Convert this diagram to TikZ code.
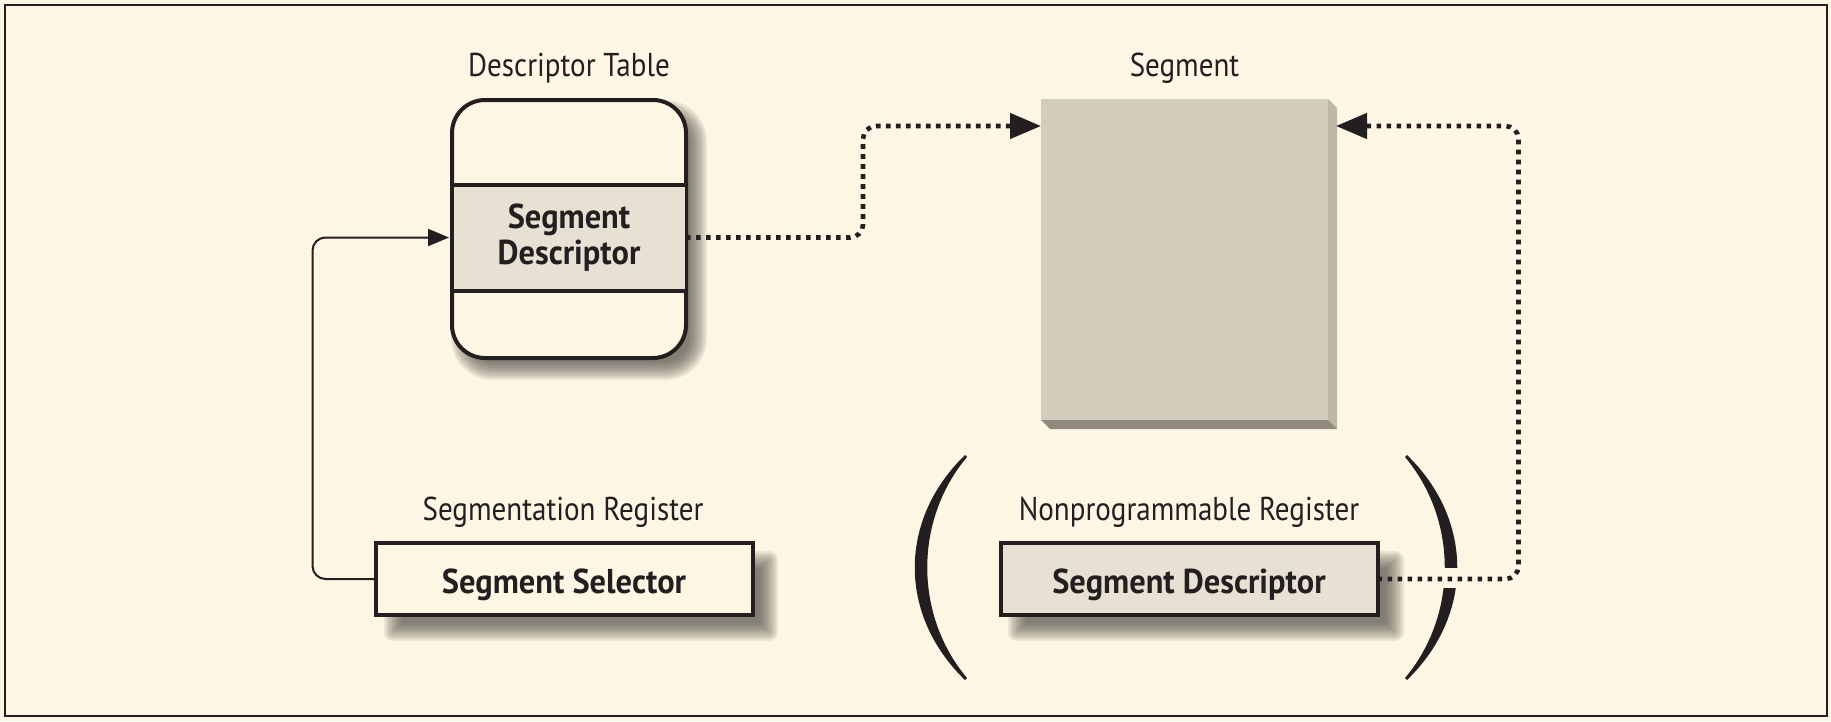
\documentclass[tikz,border=0pt]{standalone}
\usepackage{fontspec}
\usetikzlibrary{arrows.meta}
\newfontfamily\regfont{PT Sans}[FakeStretch=0.88]
\newfontfamily\bldfont{PT Sans}[FakeStretch=0.94]
\definecolor{bg}{HTML}{FDF6E4}
\definecolor{ink}{HTML}{231F20}
\definecolor{bandc}{HTML}{E6E1D2}
\definecolor{segc}{HTML}{D3CDBD}
\definecolor{sidec}{HTML}{BDB7A8}
\definecolor{botc}{HTML}{8E8A7D}
\definecolor{shadowc}{HTML}{4A463F}
\newcommand\softshadow[5]{%
  \foreach \k in {-9,-7,...,9}{%
    \pgfmathsetmacro\rr{max(0.5,#5-\k)}%
    \fill[shadowc, opacity=0.1, rounded corners=\rr pt] ({#1+\k},{#2+\k}) rectangle ({#3-\k},{#4-\k});
  }}
\tikzset{
  every node/.style={inner sep=0pt, outer sep=0pt, text=ink},
  lbl/.style={font=\regfont\fontsize{33}{38}\selectfont, anchor=base},
  blbl/.style={font=\bldfont\bfseries\fontsize{34.5}{36.6}\selectfont},
  regbox/.style={draw=ink, line width=4pt, minimum width=377pt, minimum height=72pt, text height=31pt, text depth=2pt, blbl},
  solidconn/.style={draw=ink, line width=2pt, rounded corners=13pt, -{Triangle[length=21pt,width=17pt]}, shorten >=3pt},
  dotconn/.style={draw=ink, line width=4.6pt, dash pattern=on 4.6pt off 5.4pt, rounded corners=13pt, -{Triangle[length=31pt,width=25pt]}},
  paren/.style={fill=ink}
}
\begin{document}
\begin{tikzpicture}[x=1pt,y=-1pt]
\fill[bg] (0,0) rectangle (1831,721);
\useasboundingbox (0,0) rectangle (1831,721);
\draw[ink, line width=2pt] (5,5) rectangle (1827,716);

% shadows
\softshadow{460}{109}{698}{371}{33}
\softshadow{393}{560}{769}{632}{0}
\softshadow{1017}{560}{1395}{632}{0}

% descriptor table
\node[draw=ink, line width=4pt, fill=bg, rounded corners=33pt, minimum width=234pt, minimum height=258pt] (table) at (569,229) {};
\node[fill=bandc, minimum width=231pt, minimum height=106pt] (band) at (569,237.5) {};
\draw[ink, line width=4pt] (table.west |- band.north) -- (table.east |- band.north);
\draw[ink, line width=4pt] (table.west |- band.south) -- (table.east |- band.south);
\node[blbl, align=center] (bandtxt) at (569,237.5) {Segment\\Descriptor};
\node[lbl] (ttl) at (569,76) {Descriptor Table};

% segment
\node[fill=segc, minimum width=287pt, minimum height=321pt] (seg) at (1184.5,259.5) {};
\fill[sidec] (seg.north east) -- ([shift={(9pt,-9pt)}]seg.north east) -- ([shift={(9pt,-9pt)}]seg.south east) -- (seg.south east) -- cycle;
\fill[botc] (seg.south west) -- (seg.south east) -- ([shift={(9pt,-9pt)}]seg.south east) -- ([shift={(9pt,-9pt)}]seg.south west) -- cycle;
\node[lbl] (segttl) at (1184.5,76) {Segment};

% registers
\node[regbox, fill=bg] (sel) at (564,579) {Segment Selector};
\node[lbl] (selttl) at (563,520) {Segmentation Register};
\node[regbox, fill=bandc] (nsd) at (1189,579) {Segment Descriptor};
\node[lbl] (nsdttl) at (1189,520) {Nonprogrammable Register};

% parentheses
\fill[paren] (965,455) .. controls (898,520) and (898,615) .. (965,680)
   -- (967,678) .. controls (914,615) and (914,520) .. (967,457) -- cycle;
\fill[paren] (1407,455) .. controls (1474,520) and (1474,615) .. (1407,680)
   -- (1405,678) .. controls (1458,615) and (1458,520) .. (1405,457) -- cycle;
\fill[bg] (1436,568) rectangle (1470,588);

% connectors
\draw[solidconn] (sel.west) -| ([xshift=-141pt]band.west) -- (table.west |- band.west);
\draw[dotconn] (band.east -| table.east) -- ++(177pt,0) |- ([yshift=-27pt]seg.north west);
\draw[dotconn] (nsd.east) -- ++(141pt,0) |- ([shift={(8pt,-27pt)}]seg.north east);
\end{tikzpicture}
\end{document}
